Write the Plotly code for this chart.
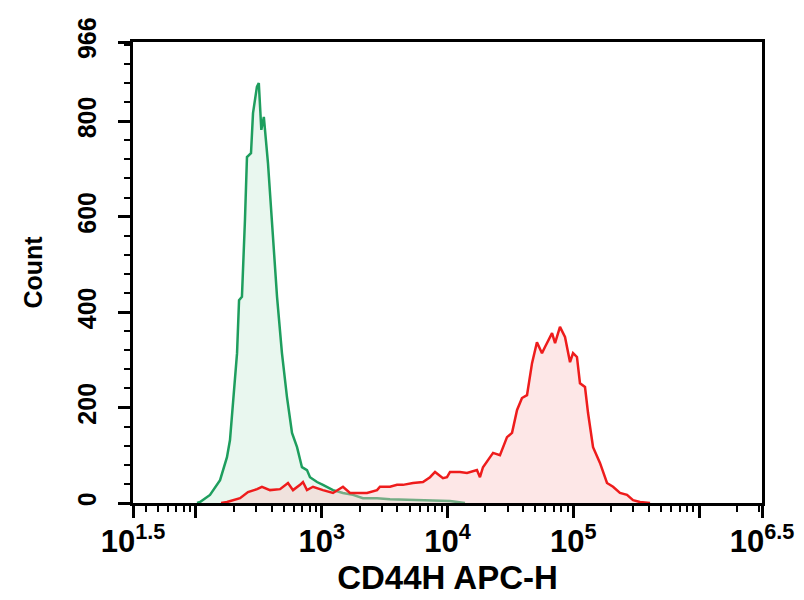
import plotly.graph_objects as go

# log10 of APC-H intensity
green_log = [2.009, 2.033, 2.112, 2.192, 2.247, 2.271, 2.295, 2.327, 2.343, 2.366, 2.390, 2.406,
             2.438, 2.454, 2.485, 2.500, 2.520, 2.540, 2.573, 2.613, 2.645, 2.684, 2.724, 2.764,
             2.804, 2.843, 2.883, 2.907, 2.963, 3.010, 3.090, 3.169, 3.249, 3.328, 3.440, 3.543,
             3.805, 4.020, 4.139]
green_count = [0, 2, 17, 48, 96, 132, 210, 314, 425, 432, 593, 725,
               733, 817, 872, 880, 782, 809, 712, 557, 432, 314, 222, 147,
               117, 75, 69, 54, 44, 38, 27, 21, 17, 10, 10, 8,
               6, 4, 0]

red_log = [2.200, 2.247, 2.351, 2.414, 2.486, 2.525, 2.589, 2.669, 2.732, 2.772, 2.828, 2.851,
           2.883, 2.931, 3.010, 3.090, 3.169, 3.225, 3.360, 3.440, 3.463, 3.543, 3.599, 3.646,
           3.726, 3.805, 3.861, 3.901, 3.964, 3.996, 4.020, 4.099, 4.155, 4.234, 4.258, 4.282,
           4.362, 4.417, 4.473, 4.513, 4.553, 4.592, 4.632, 4.672, 4.711, 4.751, 4.775, 4.831,
           4.855, 4.894, 4.934, 4.974, 4.998, 5.029, 5.053, 5.093, 5.117, 5.157, 5.212, 5.268,
           5.316, 5.371, 5.427, 5.475, 5.530, 5.610]
red_count = [0, 2, 10, 23, 29, 34, 27, 29, 42, 27, 38, 44,
             27, 34, 27, 21, 34, 21, 21, 27, 34, 34, 38, 38,
             42, 44, 54, 65, 52, 54, 65, 65, 63, 69, 54, 75,
             105, 100, 138, 147, 195, 220, 226, 293, 337, 314, 327, 356,
             335, 369, 348, 295, 314, 306, 251, 243, 189, 117, 84, 42,
             34, 21, 17, 6, 2, 0]

x_tickvals = [10 ** 1.5, 1e2, 1e3, 1e4, 1e5, 1e6, 10 ** 6.5]
x_ticktext = ["10<sup>1.5</sup>", "", "10<sup>3</sup>", "10<sup>4</sup>", "10<sup>5</sup>", "",
              "10<sup>6.5</sup>"]
y_tickvals = [0, 200, 400, 600, 800, 966]
y_ticktext = ["0", "200", "400", "600", "800", "966"]

minor_x = []
for d in range(1, 7):
    for m in range(2, 10):
        v = m * 10 ** d
        if 10 ** 1.5 < v < 10 ** 6.5:
            minor_x.append(v)

fig = go.Figure()
fig.add_scatter(x=[10 ** v for v in green_log], y=green_count, mode="lines",
                line=dict(color="#1e9e5e", width=2.5), fill="tozeroy",
                fillcolor="rgba(200,235,215,0.4)", showlegend=False)
fig.add_scatter(x=[10 ** v for v in red_log], y=red_count, mode="lines",
                line=dict(color="#ee1c1c", width=2.5), fill="tozeroy",
                fillcolor="rgba(250,195,195,0.4)", showlegend=False)

font = dict(family="Liberation Sans, Arial, sans-serif", color="black", weight="bold")

# page body has an 8px margin, so the figure is a bit smaller than the window
fig.update_layout(
    width=796, height=592,
    margin=dict(l=125, r=42, t=34, b=97),
    paper_bgcolor="white", plot_bgcolor="white",
    font=font,
    xaxis=dict(type="log", range=[1.5, 6.5], tickmode="array",
               tickvals=x_tickvals, ticktext=x_ticktext, automargin=False,
               ticks="outside", ticklen=12, tickwidth=3, tickcolor="black",
               ticklabelstandoff=-3,
               minor=dict(tickmode="array", tickvals=minor_x, ticks="outside",
                          ticklen=6, tickwidth=2, tickcolor="black"),
               showline=True, linecolor="black", linewidth=3, mirror=True,
               showgrid=False, zeroline=False,
               tickfont=dict(size=31, **font),
               title=dict(text="CD44H APC-H", font=dict(size=33, **font), standoff=8)),
    yaxis=dict(range=[0, 966], tickmode="array", tickvals=y_tickvals, ticktext=y_ticktext,
               tickangle=-90, ticks="outside", ticklen=12, tickwidth=3, tickcolor="black",
               ticklabelstandoff=12, automargin=False,
               minor=dict(dtick=40, ticks="outside", ticklen=6, tickwidth=2, tickcolor="black"),
               showline=True, linecolor="black", linewidth=3, mirror=True,
               showgrid=False, zeroline=False,
               tickfont=dict(size=25, **font),
               title=dict(text="Count", font=dict(size=25, **font), standoff=24)),
)

fig.write_html("out.html")
